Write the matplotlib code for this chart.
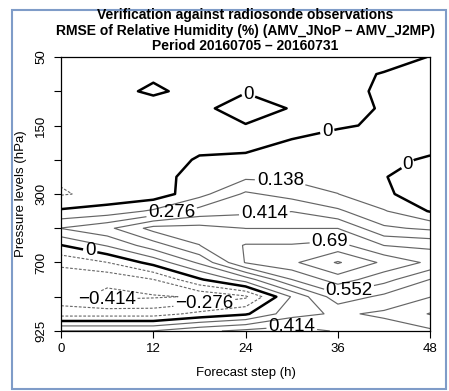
import numpy as np
import matplotlib
matplotlib.use("Agg")
import matplotlib.pyplot as plt
from matplotlib.patches import Rectangle

plt.rcParams['font.family'] = ['Liberation Sans', 'DejaVu Sans']

# =============================================================
# DONNEES
# =============================================================
steps = [0, 6, 12, 18, 24, 30, 36, 42, 48]          # echeance (h)
level_pos = [0, 0.5, 1, 1.5, 2, 2.5, 3, 3.5, 4, 4.5, 5, 5.5, 6, 6.5, 7, 7.5, 8]
tick_pos = [0, 1, 2, 3, 4, 5, 6, 7, 8]
tick_labels = ['50', '', '150', '', '300', '', '700', '', '925']
x_ticks = [0, 12, 24, 36, 48]

# difference de RMSE, une ligne par niveau (du haut vers le bas)
rmse_diff = [
    [-0.05, -0.05, -0.04, -0.04, -0.03,  -0.03,  -0.03,  -0.04,  0.003],
    [-0.05, -0.05, -0.01, -0.04, -0.03,  -0.03,  -0.03,   0.006, 0.02],
    [-0.05, -0.02,  0.01, -0.02, -0.005, -0.02,  -0.02,   0.01,  0.02],
    [-0.05, -0.04, -0.03, -0.02,  0.04,  -0.005, -0.02,   0.005, 0.02],
    [-0.06, -0.05, -0.04, -0.03, -0.004, -0.02,  -0.008,  0.01,  0.02],
    [-0.07, -0.06, -0.05, -0.03, -0.015,  0.005,  0.03,   0.03,  0.03],
    [-0.08, -0.07, -0.05,  0.01,  0.01,   0.04,   0.07,   0.02, -0.01],
    [-0.12, -0.09, -0.06,  0.06,  0.11,   0.11,   0.08,   0.005, -0.06],
    [-0.15, -0.10, -0.08,  0.09,  0.30,   0.22,   0.14,   0.015, -0.05],
    [ 0.02,  0.06,  0.16,  0.33,  0.38,   0.41,   0.30,   0.15, -0.01],
    [ 0.28,  0.38,  0.60,  0.60,  0.55,   0.55,   0.55,   0.30,  0.25],
    [-0.005, 0.15,  0.35,  0.55,  0.70,   0.70,   0.74,   0.55,  0.52],
    [-0.24, -0.14,  0.05,  0.30,  0.70,   0.80,   0.98,   0.80,  0.66],
    [-0.37, -0.38, -0.28, -0.02,  0.20,   0.55,   0.76,   0.60,  0.41],
    [-0.36, -0.45, -0.43, -0.40, -0.30,   0.15,   0.50,   0.38,  0.28],
    [-0.20, -0.20, -0.20, -0.10, -0.02,   0.22,   0.30,   0.25,  0.13],
    [ 0.28,  0.28,  0.28,  0.38,  0.45,   0.48,   0.40,   0.35,  0.30],
]

neg_levels = [-0.552, -0.414, -0.276, -0.138]
zero_level = [0.0]
pos_levels = [0.138, 0.276, 0.414, 0.552, 0.69, 0.828, 0.966, 1.104]

# =============================================================
# FIGURE
# =============================================================
fig = plt.figure(figsize=(4.49, 3.91), dpi=100)
fig.patches.append(Rectangle((12 / 449, 1 - 389 / 391), 434 / 449, 379 / 391,
                             transform=fig.transFigure, fill=False,
                             edgecolor='#7f9cc8', lw=1.5))
ax = fig.add_axes([0.136, 0.1535, 0.822, 0.7007])

Z = np.array(rmse_diff)

def fmt(v):
    return f"{round(v, 3):g}".replace('-', '\u2212')

cn = ax.contour(steps, level_pos, Z, levels=neg_levels, colors='#666666',
                linewidths=0.8, linestyles=[(0, (2.5, 1.5))])
cz = ax.contour(steps, level_pos, Z, levels=zero_level, colors='black',
                linewidths=1.8, linestyles='solid')
cp = ax.contour(steps, level_pos, Z, levels=pos_levels, colors='#666666',
                linewidths=0.85, linestyles='solid')

lab_kw = dict(inline=True, fmt=fmt, fontsize=13.5, colors='black', inline_spacing=2)
labels = []
labels += ax.clabel(cn, manual=[(6, 6.95), (18.7, 7.3)], **lab_kw)
labels += ax.clabel(cz, manual=[(24.5, 1.0), (34.6, 2.15), (44.7, 3.0), (3.8, 5.65)], **lab_kw)
labels += ax.clabel(cp, manual=[(28.5, 3.7), (14.4, 4.55), (26.5, 4.76), (35, 5.5),
                                (37.5, 6.9), (30, 7.9)], **lab_kw)
# etiquettes horizontales comme sur l'original
for t in labels:
    t.set_rotation(0)

ax.set_xlim(0, 48)
ax.set_ylim(8, 0)
ax.set_xticks(x_ticks)
ax.set_xticklabels([str(t) for t in x_ticks], fontsize=9.5)
ax.set_yticks(tick_pos)
ax.set_yticklabels(tick_labels, fontsize=9.5, rotation=90, va='center')
ax.tick_params(axis='y', direction='out', length=5, width=0.8, pad=5)
ax.tick_params(axis='x', direction='out', length=5, width=0.8, pad=4)
ax.set_xlabel("Forecast step (h)", fontsize=9.5, labelpad=8)
ax.set_ylabel("Pressure levels (hPa)", fontsize=9.5, labelpad=6)
for s in ax.spines.values():
    s.set_linewidth(0.9)

tx = (61 + 430) / 2 / 449
fig.text(tx, 1 - 15 / 391, "Verification against radiosonde observations",
         ha='center', va='center', fontsize=10, fontweight='bold')
fig.text(tx, 1 - 31 / 391, "RMSE of Relative Humidity (%) (AMV_JNoP \u2013 AMV_J2MP)",
         ha='center', va='center', fontsize=10, fontweight='bold')
fig.text(tx, 1 - 46 / 391, "Period 20160705 \u2013 20160731",
         ha='center', va='center', fontsize=10, fontweight='bold')

fig.savefig("out.png", dpi=100)
